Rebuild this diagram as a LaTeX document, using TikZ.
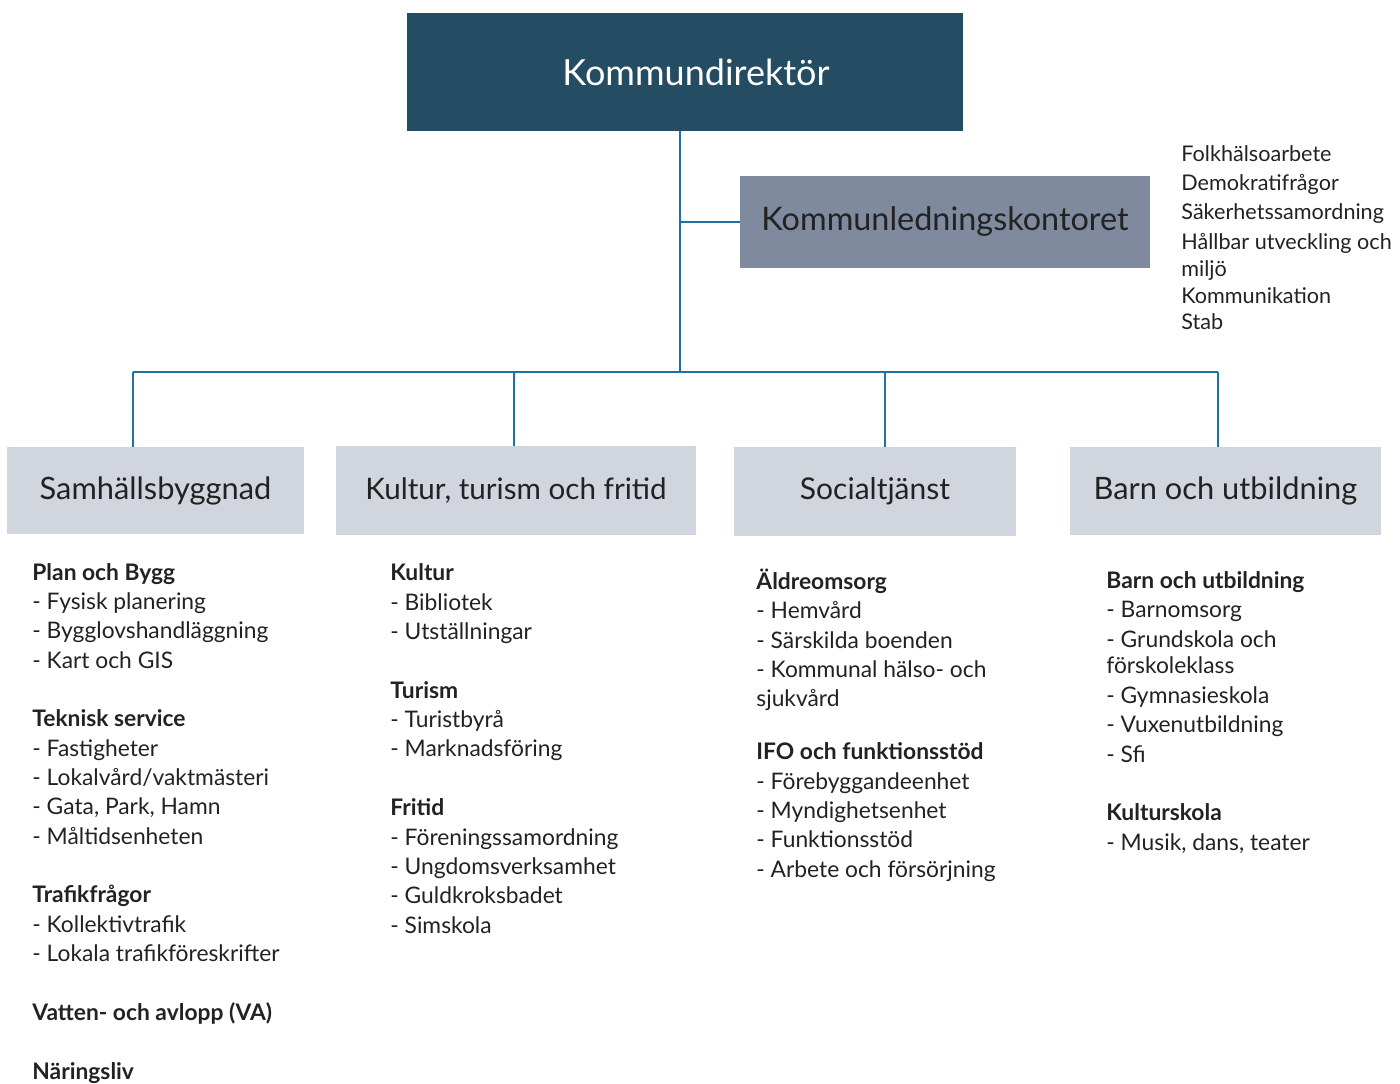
\documentclass[tikz,border=0pt]{standalone}
\usepackage{fontspec}
\setmainfont{Lato}
\usetikzlibrary{positioning}
\definecolor{direktor}{HTML}{244C62}
\definecolor{ledning}{HTML}{7F8A9E}
\definecolor{omrade}{HTML}{D1D5DD}
\definecolor{linje}{HTML}{1F6FA8}
\definecolor{textgray}{HTML}{222222}

\begin{document}
\begin{tikzpicture}[x=0.5pt,y=-0.5pt,
  box/.style={rectangle, inner sep=0pt, text=textgray, font=\fontsize{15.4}{17}\selectfont},
  list/.style={anchor=base west, align=left, inner sep=0pt, text=textgray, font=\fontsize{11.4}{14.67}\selectfont},
  conn/.style={draw=linje, line width=1pt}]
\useasboundingbox (0,0) rectangle (1400,1083);

% boxes
\node [box, fill=direktor, minimum width=278pt, minimum height=59pt,
  label={[text=white, font=\fontsize{18}{20}\selectfont, xshift=5.5pt]center:Kommundirektör}] (dir) at (685,72) {};
\node [box, fill=ledning, minimum width=205pt, minimum height=46pt, font=\fontsize{16.2}{18}\selectfont] (kl) at (945,222) {Kommunledningskontoret};
\node [box, fill=omrade, minimum width=148.5pt, minimum height=43.5pt] (samh) at (155.5,490.5) {Samhällsbyggnad};
\node [box, fill=omrade, minimum width=180pt, minimum height=44.5pt, font=\fontsize{14.8}{17}\selectfont] (kultur) at (516,490.5) {Kultur, turism och fritid};
\node [box, fill=omrade, minimum width=141pt, minimum height=44.5pt, font=\fontsize{15}{17}\selectfont] (soc) at (875,491.5) {Socialtjänst};
\node [box, fill=omrade, minimum width=155.5pt, minimum height=44pt] (barn) at (1225.5,491) {Barn och utbildning};

% connectors
\coordinate (trunk) at (680,372);
\coordinate (b1) at (133,372);
\coordinate (b2) at (514,372);
\coordinate (b3) at (885,372);
\coordinate (b4) at (1218,372);
\draw [conn] (dir.south -| trunk) -- (trunk);
\draw [conn] (kl.west -| trunk) -- (kl.west);
\draw [conn] (b1) -- (b4);
\draw [conn] (b1) -- (b1 |- samh.north);
\draw [conn] (b2) -- (b2 |- kultur.north);
\draw [conn] (b3) -- (b3 |- soc.north);
\draw [conn] (b4) -- (b4 |- barn.north);

% lists (placed at the baseline of their last line)
\node [list, font=\fontsize{10.8}{14.67}\selectfont] (stab) at (1181,329) {Folkhälsoarbete\\ Demokratifrågor\\ Säkerhetssamordning\\ Hållbar utveckling och\\[-1.2pt] miljö\\[-1.2pt] Kommunikation\\[-1.7pt] Stab};
\node [list] (samhlist) at (32,1079) {\textbf{Plan och Bygg}\\ - Fysisk planering\\ - Bygglovshandläggning\\ - Kart och GIS\\[14.67pt]
  \textbf{Teknisk service}\\ - Fastigheter\\ - Lokalvård/vaktmästeri\\ - Gata, Park, Hamn\\ - Måltidsenheten\\[14.67pt]
  \textbf{Trafikfrågor}\\ - Kollektivtrafik\\ - Lokala trafikföreskrifter\\[14.67pt]
  \textbf{Vatten- och avlopp (VA)}\\[14.67pt]
  \textbf{Näringsliv}};
\node [list] (kulturlist) at (390,933) {\textbf{Kultur}\\ - Bibliotek\\ - Utställningar\\[14.67pt]
  \textbf{Turism}\\ - Turistbyrå\\ - Marknadsföring\\[14.67pt]
  \textbf{Fritid}\\ - Föreningssamordning\\ - Ungdomsverksamhet\\ - Guldkroksbadet\\ - Simskola};
\node [list] (soclist) at (756,877) {\textbf{Äldreomsorg}\\ - Hemvård\\ - Särskilda boenden\\ - Kommunal hälso- och\\ sjukvård\\[11.8pt]
  \textbf{IFO och funktionsstöd}\\ - Förebyggandeenhet\\ - Myndighetsenhet\\ - Funktionsstöd\\ - Arbete och försörjning};
\node [list] (barnlist) at (1106,850) {\textbf{Barn och utbildning}\\ - Barnomsorg\\ - Grundskola och\\[-1.2pt] förskoleklass\\ - Gymnasieskola\\ - Vuxenutbildning\\ - Sfi\\[14.67pt]
  \textbf{Kulturskola}\\ - Musik, dans, teater};
\end{tikzpicture}
\end{document}
